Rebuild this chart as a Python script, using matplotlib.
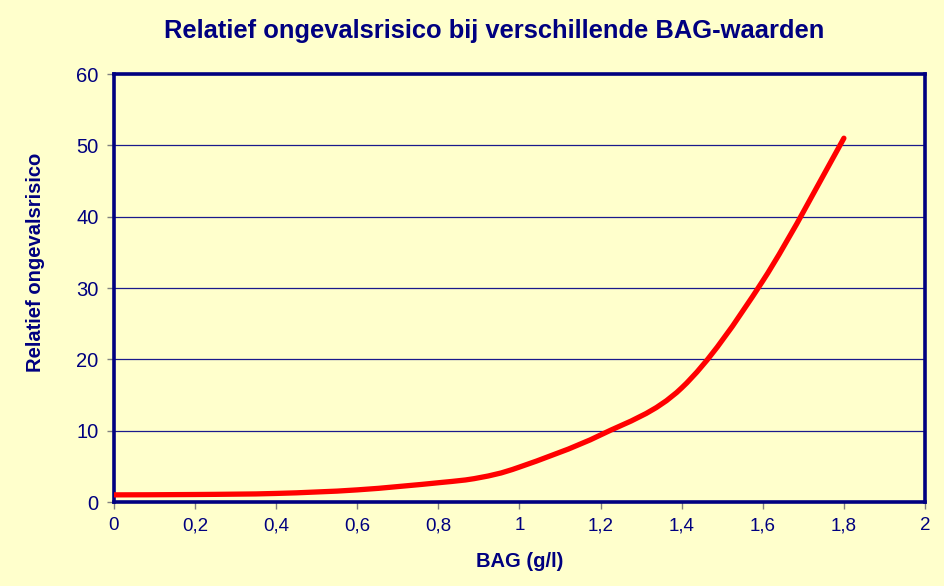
import numpy as np
import matplotlib
matplotlib.use("Agg")
import matplotlib.pyplot as plt
from matplotlib.path import Path
from matplotlib.patches import PathPatch

bag = [0.0, 0.2, 0.4, 0.6, 0.8, 0.9, 1.0, 1.2, 1.4, 1.6, 1.8]
risk = [1.0, 1.05, 1.2, 1.7, 2.7, 3.4, 4.9, 9.4, 16.0, 31.0, 51.0]
xticks = [0, 0.2, 0.4, 0.6, 0.8, 1, 1.2, 1.4, 1.6, 1.8, 2]
xticklabels = ["0", "0,2", "0,4", "0,6", "0,8", "1", "1,2", "1,4", "1,6", "1,8", "2"]
yticks = [0, 10, 20, 30, 40, 50, 60]

BG = "#FFFFCC"
NAVY = "#000080"
plt.rcParams['font.family'] = ['Liberation Sans', 'DejaVu Sans']

fig = plt.figure(figsize=(9.45, 5.86), dpi=100)
fig.patch.set_facecolor(BG)
ax = fig.add_axes([114/945, 1-502/586, (925-114)/945, (502-74)/586])
ax.set_facecolor(BG)

# Excel-style smoothed line: cubic Bezier through the data points
P = np.column_stack([bag, risk])
n = len(P)
verts = [tuple(P[0])]
codes = [Path.MOVETO]
for i in range(n - 1):
    p0 = P[i - 1] if i > 0 else P[i]
    p1 = P[i]
    p2 = P[i + 1]
    p3 = P[i + 2] if i + 2 < n else P[i + 1]
    c1 = p1 + (p2 - p0) / 6.0
    c2 = p2 - (p3 - p1) / 6.0
    verts += [tuple(c1), tuple(c2), tuple(p2)]
    codes += [Path.CURVE4] * 3
patch = PathPatch(Path(verts, codes), facecolor='none', edgecolor='#FF0000',
                  lw=3.8, capstyle='round', joinstyle='round', zorder=3)
ax.add_patch(patch)

ax.set_xlim(0, 2)
ax.set_ylim(0, 60)
ax.set_xticks(xticks)
ax.set_xticklabels(xticklabels)
ax.set_yticks(yticks)
ax.yaxis.grid(True, color="#1a1a8c", lw=0.9)
ax.set_axisbelow(True)
for s in ax.spines.values():
    s.set_color(NAVY)
    s.set_linewidth(2.6)
ax.tick_params(axis='both', direction='out', length=5, width=1, color='#808080',
               labelcolor=NAVY)
ax.tick_params(axis='x', pad=6, labelsize=13.5)
ax.tick_params(axis='y', pad=6, labelsize=14.5)

fig.text(494/945, 1-31/586, "Relatief ongevalsrisico bij verschillende BAG-waarden",
         ha='center', va='center', fontsize=18.4, fontweight='bold', color=NAVY)
ax.set_xlabel("BAG (g/l)", fontsize=14.5, fontweight='bold', color=NAVY, labelpad=13)
fig.text(36/945, 1-262/586, "Relatief ongevalsrisico", rotation=90, ha='center', va='center',
         fontsize=14.5, fontweight='bold', color=NAVY)

fig.savefig("out.png", dpi=100, facecolor=BG)
